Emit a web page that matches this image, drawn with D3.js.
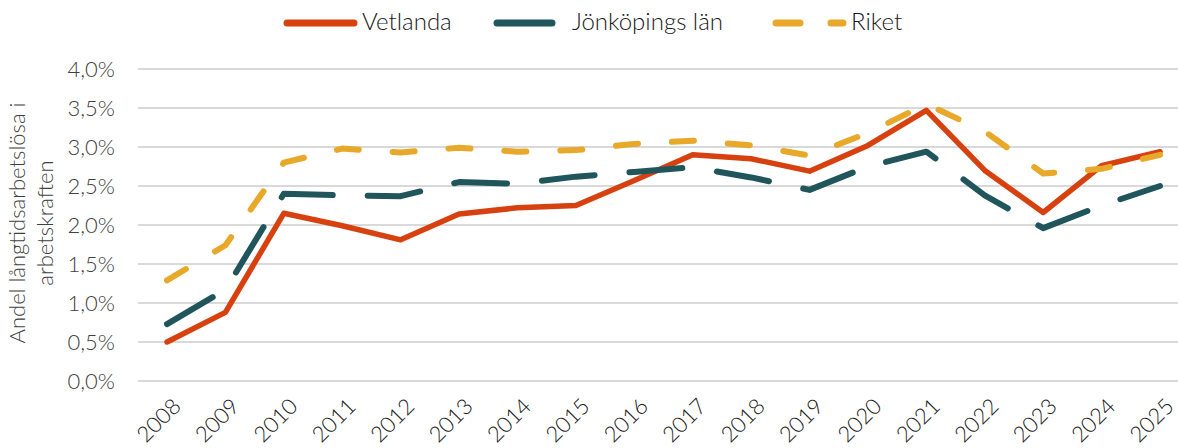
<!DOCTYPE html>
<html><head><meta charset="utf-8">
<script src="https://cdn.jsdelivr.net/npm/d3@7"></script>
<style>
html,body{margin:0;padding:0;background:#fff;}
svg text{font-family:"Lato","Open Sans",sans-serif;font-weight:300;}
</style></head>
<body><svg id="c" width="1178" height="448"></svg>
<script>
const years = ["2008","2009","2010","2011","2012","2013","2014","2015","2016","2017","2018","2019","2020","2021","2022","2023","2024","2025"];
const vetlanda = [0.50,0.88,2.15,1.99,1.81,2.14,2.22,2.25,2.57,2.90,2.85,2.69,3.02,3.47,2.70,2.16,2.76,2.94];
const jonkoping = [0.73,1.17,2.40,2.38,2.37,2.55,2.53,2.62,2.68,2.74,2.61,2.45,2.75,2.94,2.38,1.96,2.25,2.50];
const riket = [1.29,1.74,2.80,2.98,2.93,2.99,2.94,2.96,3.04,3.08,3.02,2.89,3.18,3.55,3.20,2.66,2.72,2.90];
const yTicks = [0,0.5,1,1.5,2,2.5,3,3.5,4];
const seriesNames = ["Vetlanda","Jönköpings län","Riket"];
const colors = ["#d7410f","#1f555b","#e8a82a"];

const svg = d3.select("#c");
const x = d3.scalePoint().domain(years).range([167,1160]);
const y = d3.scaleLinear().domain([0,4]).range([381,69]);
const fmt = v => d3.format(".1f")(v).replace(".", ",") + "%";

// grid
svg.append("g").selectAll("line").data(yTicks).join("line")
  .attr("x1",138).attr("x2",1178)
  .attr("y1",d=>y(d)).attr("y2",d=>y(d))
  .attr("stroke","#d9d9d9").attr("stroke-width",2);

// y axis labels
const yAxis = d3.axisLeft(y).tickValues(yTicks).tickFormat(fmt).tickSize(0).tickPadding(0);
const gy = svg.append("g").attr("transform","translate(115,0)").call(yAxis);
gy.select(".domain").remove();
gy.selectAll("text").attr("font-size",22).attr("fill","#404040")
  .attr("font-family","Lato, 'Open Sans', sans-serif").attr("font-weight",300);

// x axis labels
const xAxis = d3.axisBottom(x).tickSize(0).tickPadding(0);
const gx = svg.append("g").attr("transform","translate(0,396)").call(xAxis);
gx.select(".domain").remove();
gx.selectAll("text").attr("font-size",22).attr("fill","#1a1a1a")
  .attr("font-family","Lato, 'Open Sans', sans-serif").attr("font-weight",300)
  .attr("text-anchor","end").attr("dy","0.75em")
  .attr("transform","translate(3,0) rotate(-45)");

// y axis title
const title = svg.append("text").attr("font-size",22).attr("fill","#404040")
  .attr("text-anchor","middle").attr("transform","translate(25,223) rotate(-90)");
title.append("tspan").attr("x",0).attr("y",0).text("Andel långtidsarbetslösa i");
title.append("tspan").attr("x",0).attr("y",28).text("arbetskraften");

// lines
const line = d3.line().x((d,i)=>x(years[i])).y(d=>y(d));
const data = [vetlanda, jonkoping, riket];
const dashes = [null, "53,35", "22,34"];
data.forEach((s,k)=>{
  svg.append("path").datum(s).attr("d",line).attr("fill","none")
    .attr("stroke",colors[k]).attr("stroke-width",k===0?5.5:6)
    .attr("stroke-linecap","round").attr("stroke-linejoin","round")
    .attr("stroke-dasharray",dashes[k]);
});

// legend
const legX = [287,497,776];
const lg = svg.append("g");
seriesNames.forEach((n,k)=>{
  lg.append("line").attr("x1",legX[k]).attr("x2",legX[k]+67).attr("y1",23).attr("y2",23)
    .attr("stroke",colors[k]).attr("stroke-width",7).attr("stroke-linecap","round")
    .attr("stroke-dasharray",k===0?null:(k===1?"55,40":"24,31"));
  lg.append("text").attr("x",legX[k]+75).attr("y",22).attr("dy","0.35em")
    .attr("font-size",24).attr("fill","#1a1a1a").text(n);
});
</script></body></html>
